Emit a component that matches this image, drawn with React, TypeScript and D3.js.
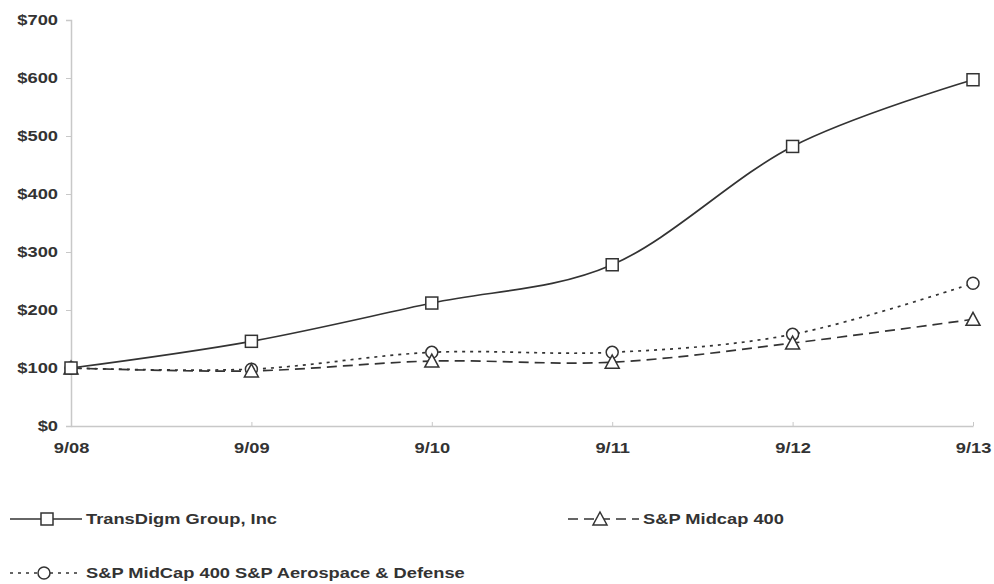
import React, { useEffect, useRef } from "react";
import * as d3 from "d3";

const W = 994;
const H = 584;
const margin = { top: 20, right: 21, bottom: 158, left: 71 };

const periods = ["9/08", "9/09", "9/10", "9/11", "9/12", "9/13"];
const yTicks = [0, 100, 200, 300, 400, 500, 600, 700];

const transDigm = [100, 146, 212, 278, 482, 597];
const midcap = [100, 95, 112, 110, 143, 184];
const aerospace = [100, 98, 127, 127, 158, 246];

type Series = { name: string; values: number[]; dash: string; marker: string };

const series: Series[] = [
  { name: "TransDigm Group, Inc", values: transDigm, dash: "", marker: "square" },
  { name: "S&P Midcap 400", values: midcap, dash: "10,6", marker: "triangle" },
  { name: "S&P MidCap 400 S&P Aerospace & Defense", values: aerospace, dash: "3,5", marker: "circle" },
];

const ink = "#333";
const font = "'Liberation Sans', Arial, sans-serif";
const stretch = 1.22; // the reference text is wide

function drawMarker(g: any, kind: string, x: number, y: number) {
  if (kind === "square") {
    g.append("rect").attr("x", x - 6).attr("y", y - 6).attr("width", 12).attr("height", 12)
      .attr("fill", "white").attr("stroke", ink).attr("stroke-width", 1.5);
  } else if (kind === "circle") {
    g.append("circle").attr("cx", x).attr("cy", y).attr("r", 6)
      .attr("fill", "white").attr("stroke", ink).attr("stroke-width", 1.5);
  } else {
    g.append("path").attr("d", `M${x},${y - 7}L${x + 7},${y + 6}L${x - 7},${y + 6}Z`)
      .attr("fill", "white").attr("stroke", ink).attr("stroke-width", 1.5);
  }
}

function styleText(sel: any) {
  sel.attr("fill", ink).attr("font-family", font).attr("font-weight", "bold").attr("font-size", 15)
    .attr("transform", `scale(${stretch},1)`);
}

export default function App() {
  const ref = useRef<SVGSVGElement>(null);

  useEffect(() => {
    const svg = d3.select(ref.current);
    svg.selectAll("*").remove();

    const x = d3.scalePoint().domain(periods).range([margin.left, W - margin.right]);
    const y = d3.scaleLinear().domain([0, 700]).range([H - margin.bottom, margin.top]);

    // y axis
    const ya = svg.append("g").attr("transform", `translate(${margin.left},0)`)
      .call(d3.axisLeft(y).tickValues(yTicks).tickSize(5).tickFormat((d: any) => `$${d}`));
    ya.select(".domain").attr("stroke", "#c8c8c8").attr("stroke-width", 1.5);
    ya.selectAll(".tick line").attr("stroke", "#c8c8c8");
    styleText(ya.selectAll("text"));
    ya.selectAll("text").attr("x", -13 / stretch);

    // x axis
    const xa = svg.append("g").attr("transform", `translate(0,${y(0)})`)
      .call(d3.axisBottom(x).tickSize(-4).tickSizeOuter(0).tickPadding(16));
    xa.select(".domain").attr("stroke", "#c8c8c8").attr("stroke-width", 1.5);
    xa.selectAll(".tick line").attr("stroke", "#c8c8c8");
    styleText(xa.selectAll("text"));

    const line = d3.line<number>()
      .x((_, i) => x(periods[i]) as number)
      .y((d) => y(d))
      .curve(d3.curveCatmullRom.alpha(0));

    const order = [series[2], series[1], series[0]];
    order.forEach((s) => {
      svg.append("path").attr("d", line(s.values)).attr("fill", "none")
        .attr("stroke", ink).attr("stroke-width", 1.7)
        .attr("stroke-dasharray", s.dash || null);
    });
    order.forEach((s) => {
      const g = svg.append("g");
      s.values.forEach((v, i) => drawMarker(g, s.marker, x(periods[i]) as number, y(v)));
    });

    // legend
    const legendPos = [
      { lx: 10, ly: 519, mx: 47, tx: 86 },
      { lx: 568, ly: 519, mx: 600, tx: 643 },
      { lx: 10, ly: 573, mx: 44, tx: 86 },
    ];
    series.forEach((s, i) => {
      const p = legendPos[i];
      const g = svg.append("g");
      const len = p.tx - p.lx - 4;
      g.append("line").attr("x1", p.lx).attr("x2", p.lx + len).attr("y1", p.ly).attr("y2", p.ly)
        .attr("stroke", ink).attr("stroke-width", 1.7).attr("stroke-dasharray", s.dash || null);
      drawMarker(g, s.marker, p.mx, p.ly);
      const t = g.append("g").attr("transform", `translate(${p.tx},${p.ly})`).append("text")
        .attr("dy", "0.35em").text(s.name);
      styleText(t);
    });
  }, []);

  return (
    <svg ref={ref} width={W} height={H}
      style={{ position: "absolute", left: 0, top: 0, background: "white" }} />
  );
}
